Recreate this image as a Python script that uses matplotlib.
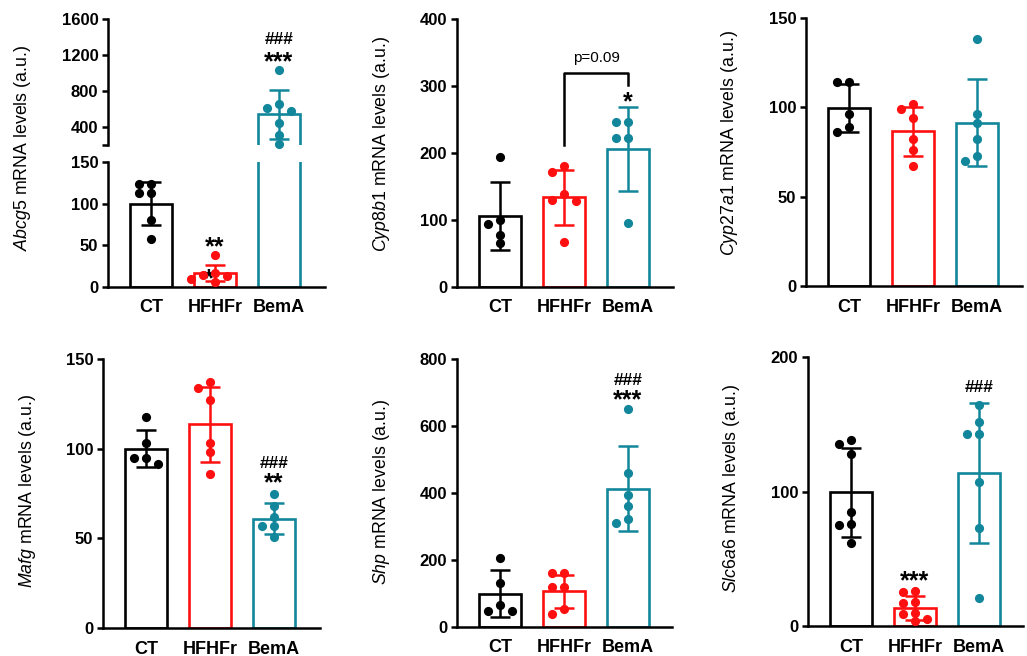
import matplotlib
matplotlib.use('Agg')
import matplotlib.pyplot as plt
import numpy as np

plt.rcParams['font.family'] = ['Liberation Sans', 'DejaVu Sans']
plt.rcParams['mathtext.fontset'] = 'custom'
plt.rcParams['mathtext.rm'] = 'Liberation Sans'
plt.rcParams['mathtext.it'] = 'Liberation Sans:italic'
plt.rcParams['mathtext.bf'] = 'Liberation Sans:bold'

# ---------------- data ----------------
groups = ['CT', 'HFHFr', 'BemA']
colors = ['#000000', '#FF1010', '#12879B']

abcg5_ct = [124, 124, 113, 113, 81, 58]
abcg5_hf = [38, 17, 15, 13, 10, 6]
abcg5_bem = [1033, 656, 611, 578, 444, 311, 215]
abcg5_mean = [100, 17, 541]
abcg5_sd = [26, 10, 270]

cyp8b1_ct = [194, 100, 94, 78, 66]
cyp8b1_hf = [180, 172, 139, 130, 128, 67]
cyp8b1_bem = [246, 246, 222, 222, 96]
cyp8b1_mean = [106, 134, 206]
cyp8b1_sd = [51, 41, 63]

cyp27a1_ct = [114, 114, 96, 89, 86]
cyp27a1_hf = [102, 99, 94, 82, 76, 67]
cyp27a1_bem = [138, 96, 91, 82, 73, 70]
cyp27a1_mean = [99.5, 86.5, 91.5]
cyp27a1_sd = [13.5, 13.5, 24.5]

mafg_ct = [117.5, 103, 95, 95, 91.5]
mafg_hf = [137, 134, 127, 103, 98, 86]
mafg_bem = [75, 68, 62, 57, 57, 51]
mafg_mean = [100, 113.6, 61]
mafg_sd = [10.5, 21, 8.7]

shp_ct = [206, 131, 65, 47, 47]
shp_hf = [162, 162, 118, 118, 54, 39]
shp_bem = [650, 461, 393, 361, 322, 310]
shp_mean = [99.5, 106.6, 413]
shp_sd = [69.5, 49, 127]

slc6a6_ct = [138, 135, 128, 85, 76, 75, 62]
slc6a6_hf = [25, 26, 18, 17, 10, 9, 5, 4]
slc6a6_bem = [164, 152, 143, 143, 107, 73, 21]
slc6a6_mean = [99.5, 13.5, 114]
slc6a6_sd = [33, 9, 52]

# ---------------- figure ----------------
W, H = 1027, 656
fig = plt.figure(figsize=(W / 100, H / 100), dpi=100)

PX_PER_CAT = 64.0
X0 = -0.672
LW = 1.8


def px_axes(l, r, t, b):
    ax = fig.add_axes([l / W, 1 - b / H, (r - l) / W, (b - t) / H])
    ax.set_xlim(X0, X0 + (r - l) / PX_PER_CAT)
    return ax


def swarm(vals, px_per_unit, diam=8.0, step=0.19):
    order = np.argsort(vals)[::-1]
    placed = []
    offs = np.zeros(len(vals))
    cand = [0, -step, step, -2 * step, 2 * step, -3 * step, 3 * step]
    for i in order:
        y = vals[i] * px_per_unit
        for c in cand:
            ok = True
            for (cx, cy) in placed:
                if np.hypot((c - cx) * PX_PER_CAT, y - cy) < diam:
                    ok = False
                    break
            if ok:
                offs[i] = c
                placed.append((c, y))
                break
    return offs


def style(ax, ylim, yticks, ylabels=None, show_x=True):
    ax.set_ylim(*ylim)
    ax.set_yticks(yticks)
    if ylabels is not None:
        ax.set_yticklabels(ylabels)
    for s in ['top', 'right']:
        ax.spines[s].set_visible(False)
    for s in ['left', 'bottom']:
        ax.spines[s].set_linewidth(LW)
    ax.tick_params(axis='y', direction='out', length=4, width=LW, labelsize=12, pad=3)
    for lab in ax.get_yticklabels():
        lab.set_fontweight('bold')
    if show_x:
        ax.set_xticks(range(len(groups)))
        ax.set_xticklabels(groups, fontsize=13, fontweight='bold')
        ax.tick_params(axis='x', length=0, pad=9)
    else:
        ax.spines['bottom'].set_visible(False)
        ax.set_xticks([])


def draw(ax, data, means, sds, ylim, px_h, point_filter=None):
    ppu = px_h / (ylim[1] - ylim[0])
    for i, (vals, m, sd, c) in enumerate(zip(data, means, sds, colors)):
        ax.bar(i, m, width=0.65, facecolor='white', edgecolor=c, linewidth=1.9, zorder=2)
        ax.errorbar(i, m, yerr=sd, fmt='none', ecolor=c, elinewidth=LW,
                    capsize=7, capthick=LW, zorder=3)
        v = np.array(vals, dtype=float)
        offs = swarm(v, ppu)
        if point_filter is not None:
            keep = (v >= point_filter[0]) & (v <= point_filter[1])
        else:
            keep = np.ones(len(v), bool)
        ax.plot(i + offs[keep], v[keep], 'o', color=c, ms=6.6, mew=0, zorder=4,
                clip_on=False)


def mark(ax, x, y, s, size, dy=0):
    ax.annotate(s, xy=(x, y), xytext=(0, dy), textcoords='offset points',
                ha='center', va='center', fontsize=size, fontweight='bold',
                annotation_clip=False)


def ylab(xpx, ypx, gene):
    fig.text(xpx / W, 1 - ypx / H, r'$\mathit{' + gene + r'}$ mRNA levels (a.u.)',
             rotation=90, ha='center', va='center', fontsize=12.8)


AST = 18
HASH = 12.5
ADY = -2.5

# Panel 1: Abcg5 (broken axis)
axl = px_axes(108, 325, 162, 287)
axu = px_axes(108, 325, 19, 145)
d1 = [abcg5_ct, abcg5_hf, abcg5_bem]
draw(axl, d1, abcg5_mean, abcg5_sd, (0, 150), 125, point_filter=(0, 150))
draw(axu, d1, abcg5_mean, abcg5_sd, (200, 1600), 126, point_filter=(200, 1600))
style(axl, (0, 150), [0, 50, 100, 150])
style(axu, (200, 1600), [200, 400, 800, 1200, 1600], ['', '400', '800', '1200', '1600'],
      show_x=False)
mark(axu, 2, 1367, '###', HASH)
mark(axu, 2, 1155, '***', AST, dy=ADY)
mark(axl, 1, 52, '**', AST, dy=ADY)
mark(axl, 0.9, 13, '*', AST, dy=ADY)
ylab(23, 148, 'Abcg5')

# Panel 2: Cyp8b1
ax2 = px_axes(457, 673, 19, 287)
draw(ax2, [cyp8b1_ct, cyp8b1_hf, cyp8b1_bem], cyp8b1_mean, cyp8b1_sd, (0, 400), 268)
style(ax2, (0, 400), [0, 100, 200, 300, 400])
ax2.plot([1, 1, 2, 2], [212, 320, 320, 301], color='black', lw=LW, zorder=3)
ax2.text(1.5, 342, 'p=0.09', ha='center', va='center', fontsize=11)
mark(ax2, 2, 281, '*', AST, dy=ADY)
ylab(382, 144, 'Cyp8b1')

# Panel 3: Cyp27a1
ax3 = px_axes(806, 1022, 18, 286)
draw(ax3, [cyp27a1_ct, cyp27a1_hf, cyp27a1_bem], cyp27a1_mean, cyp27a1_sd, (0, 150), 268)
style(ax3, (0, 150), [0, 50, 100, 150])
ylab(730, 143, 'Cyp27a1')

# Panel 4: Mafg
ax4 = px_axes(103, 320, 359, 628)
draw(ax4, [mafg_ct, mafg_hf, mafg_bem], mafg_mean, mafg_sd, (0, 150), 269)
style(ax4, (0, 150), [0, 50, 100, 150])
mark(ax4, 2, 92, '###', HASH)
mark(ax4, 2, 82.5, '**', AST, dy=ADY)
ylab(28, 491, 'Mafg')

# Panel 5: Shp
ax5 = px_axes(457, 672, 359, 627)
draw(ax5, [shp_ct, shp_hf, shp_bem], shp_mean, shp_sd, (0, 800), 268)
style(ax5, (0, 800), [0, 200, 400, 600, 800])
mark(ax5, 2, 737, '###', HASH)
mark(ax5, 2, 686, '***', AST, dy=ADY)
ylab(382, 492, 'Shp')

# Panel 6: Slc6a6
ax6 = px_axes(808, 1023, 357, 626)
draw(ax6, [slc6a6_ct, slc6a6_hf, slc6a6_bem], slc6a6_mean, slc6a6_sd, (0, 200), 269)
style(ax6, (0, 200), [0, 100, 200])
mark(ax6, 2, 177, '###', HASH)
mark(ax6, 1, 35.7, '***', AST, dy=ADY)
ylab(732, 488, 'Slc6a6')

fig.savefig('out.png', dpi=100)
